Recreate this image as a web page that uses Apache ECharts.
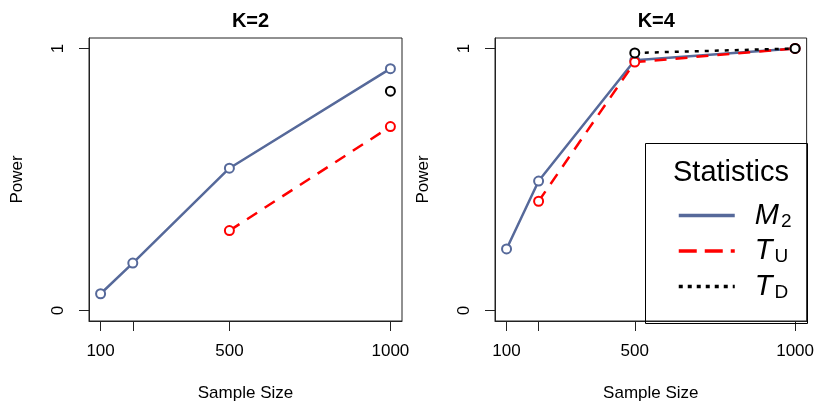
<!DOCTYPE html>
<html>
<head>
<meta charset="utf-8">
<script src="https://cdn.jsdelivr.net/npm/echarts@6/dist/echarts.min.js"></script>
<style>
  html, body { margin: 0; padding: 0; background: #fff; }
  #chart { width: 817px; height: 407px; }
</style>
</head>
<body>
<div id="chart"></div>
<script>
// sample sizes on the x axis
var sampleSizes = [100, 200, 500, 1000];
var xTickValues = [100, 200, 500, 1000];
var xLabelValues = [100, 500, 1000];
var yTickValues = [0, 1];

// K=2 panel
var k2M2 = [0.064, 0.181, 0.543, 0.923];
var k2TU = [null, null, 0.305, 0.702];
var k2TD = [null, null, null, 0.837];

// K=4 panel
var k4M2 = [0.235, 0.494, 0.955, 1.0];
var k4TU = [null, 0.417, 0.948, 1.0];
var k4TD = [null, null, 0.983, 1.0];

var panelTitles = ['K=2', 'K=4'];
var seriesNames = ['M2', 'TU', 'TD'];
var legendMain = ['M', 'T', 'T'];
var legendSub = ['2', 'U', 'D'];
var legendTitle = 'Statistics';

var FONT = 'Liberation Sans, Arial, sans-serif';
var colM2 = '#56699A', colTU = '#FF0000', colTD = '#000000';
var dashTU = [12, 9], dotTD = [4, 6];
var legendDash = ['solid', [18, 8], [4, 5]];

function pairs(vals) {
    var out = [];
    for (var i = 0; i < sampleSizes.length; i++) {
        if (vals[i] != null) out.push([sampleSizes[i], vals[i]]);
    }
    return out;
}

function xAxis(idx) {
    return {
        gridIndex: idx, type: 'value', min: 64, max: 1036,
        name: 'Sample Size', nameLocation: 'middle', nameGap: 64,
        nameTextStyle: { fontFamily: FONT, fontSize: 17, color: '#000' },
        axisLine: { show: true, onZero: false, lineStyle: { color: '#222', width: 1 } },
        axisTick: { show: true, inside: false, length: 10, customValues: xTickValues, lineStyle: { color: '#222' } },
        axisLabel: { customValues: xLabelValues, margin: 22, fontFamily: FONT, fontSize: 17, color: '#000',
                     formatter: function (v) { return String(v); } },
        splitLine: { show: false }
    };
}

function yAxis(idx) {
    return {
        gridIndex: idx, type: 'value', min: -0.04, max: 1.04,
        name: 'Power', nameLocation: 'middle', nameGap: 63,
        nameTextStyle: { fontFamily: FONT, fontSize: 17, color: '#000' },
        axisLine: { show: true, onZero: false, lineStyle: { color: '#222', width: 1 } },
        axisTick: { show: true, inside: false, length: 10, customValues: yTickValues, lineStyle: { color: '#222' } },
        axisLabel: { customValues: yTickValues, rotate: 90, margin: 22, fontFamily: FONT, fontSize: 17, color: '#000',
                     formatter: function (v) { return String(v); } },
        splitLine: { show: false }
    };
}

function mkSeries(name, vals, idx, color, type) {
    return {
        name: name, type: 'line', xAxisIndex: idx, yAxisIndex: idx,
        data: pairs(vals),
        symbol: 'emptyCircle', symbolSize: 9,
        lineStyle: { color: color, width: 2.5, type: type },
        itemStyle: { color: color, borderColor: color, borderWidth: 2 },
        emphasis: { disabled: true },
        animation: false
    };
}

var chart = echarts.init(document.getElementById('chart'), null, { renderer: 'canvas' });

chart.setOption({
    backgroundColor: '#fff',
    animation: false,
    title: [
        { text: panelTitles[0], left: 245.5, top: 6, textAlign: 'center',
          textStyle: { fontFamily: FONT, fontSize: 20, fontWeight: 'bold', color: '#000' } },
        { text: panelTitles[1], left: 651.3, top: 6, textAlign: 'center',
          textStyle: { fontFamily: FONT, fontSize: 20, fontWeight: 'bold', color: '#000' } },
        { text: legendTitle, left: 726, top: 153, textAlign: 'center',
          textStyle: { fontFamily: FONT, fontSize: 29, fontWeight: 'normal', color: '#000' } }
    ],
    grid: [
        { left: 89, right: 415, top: 38, bottom: 83, show: true, borderColor: '#222', borderWidth: 1, backgroundColor: 'transparent' },
        { left: 495, right: 10, top: 38, bottom: 83, show: true, borderColor: '#222', borderWidth: 1, backgroundColor: 'transparent' }
    ],
    xAxis: [xAxis(0), xAxis(1)],
    yAxis: [yAxis(0), yAxis(1)],
    legend: {
        data: seriesNames.map(function (n, i) {
            return { name: n, lineStyle: { type: legendDash[i], width: 3.5 } };
        }),
        orient: 'vertical', left: 672, top: 195,
        itemWidth: 56, itemHeight: 30, itemGap: 4.5,
        itemStyle: { opacity: 0 },
        selectedMode: false,
        formatter: function (name) {
            var i = seriesNames.indexOf(name);
            return '{m|' + legendMain[i] + '}{s|' + legendSub[i] + '}';
        },
        textStyle: {
            rich: {
                m: { fontFamily: FONT, fontSize: 29, fontStyle: 'italic', color: '#000', lineHeight: 30, padding: [0, 0, 0, 15] },
                s: { fontFamily: FONT, fontSize: 19, color: '#000', lineHeight: 22, padding: [12, 0, 0, 2] }
            }
        }
    },
    graphic: [
        { type: 'rect', shape: { x: 645.5, y: 143.5, width: 162, height: 180 },
          style: { fill: 'none', stroke: '#000', lineWidth: 1 }, z: 1 }
    ],
    series: [
        mkSeries(seriesNames[0], k2M2, 0, colM2, 'solid'),
        mkSeries(seriesNames[1], k2TU, 0, colTU, dashTU),
        mkSeries(seriesNames[2], k2TD, 0, colTD, dotTD),
        mkSeries(seriesNames[0], k4M2, 1, colM2, 'solid'),
        mkSeries(seriesNames[1], k4TU, 1, colTU, dashTU),
        mkSeries(seriesNames[2], k4TD, 1, colTD, dotTD)
    ]
});
</script>
</body>
</html>
